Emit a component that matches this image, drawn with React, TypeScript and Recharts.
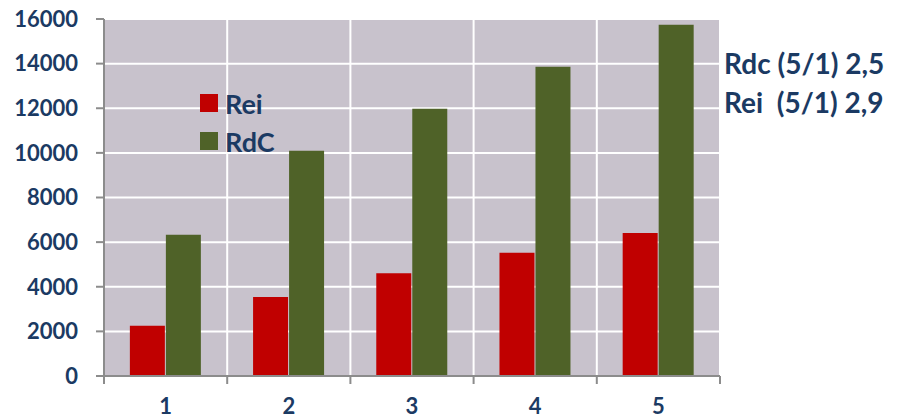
import {Bar, BarChart, CartesianGrid, Legend, XAxis, YAxis} from "recharts";

const categories = ["1", "2", "3", "4", "5"];
const reiValues = [2250, 3540, 4600, 5520, 6410];
const rdcValues = [6330, 10100, 11980, 13860, 15740];
const yTicks = [0, 2000, 4000, 6000, 8000, 10000, 12000, 14000, 16000];
const seriesOrder = ["Rei", "RdC"];
const notes = ["Rdc (5/1) 2,5", "Rei  (5/1) 2,9"];

const data = categories.map((c, i) => ({cat: c, Rei: reiValues[i], RdC: rdcValues[i]}));

const navy = "#1b3a63";
const font = "Lato, 'Open Sans', sans-serif";
const W = 900;
const H = 419;
const plotLeft = 104;
const plotRight = 720;
const band = (plotRight - plotLeft) / categories.length;

const XTick = (props: any) => {
    const {x, y, payload, index} = props;
    const left = x - band / 2;
    return (
        <g>
            <line x1={left} y1={y} x2={left} y2={y + 8} stroke="#8c8c8c" strokeWidth={2} />
            {index === categories.length - 1 && (
                <line x1={left + band} y1={y} x2={left + band} y2={y + 8} stroke="#8c8c8c" strokeWidth={2} />
            )}
            <text x={x} y={y + 38} textAnchor="middle" fill={navy} fontFamily={font} fontWeight={700} fontSize={22}>
                {payload.value}
            </text>
        </g>
    );
};

const LegendBox = ({payload}: any) => {
    const items = [...(payload || [])].sort((a: any, b: any) => seriesOrder.indexOf(a.value) - seriesOrder.indexOf(b.value));
    return (
        <div style={{fontFamily: font, fontWeight: 700, fontSize: 27, color: navy}}>
            {items.map((p: any) => (
                <div key={p.value} style={{display: "flex", alignItems: "center", height: 38}}>
                    <span style={{display: "inline-block", width: 18, height: 18, background: p.color, marginRight: 7}} />
                    {p.value}
                </div>
            ))}
        </div>
    );
};

const App = () => {
    return (
        <div style={{position: "absolute", left: 0, top: 0, width: W, height: H, background: "#fff"}}>
            <BarChart width={W} height={H} data={data} margin={{top: 19, right: W - plotRight, bottom: 0, left: 0}}
                      barCategoryGap="21%" barGap={1}>
                <CartesianGrid fill="#c8c2cc" stroke="#ffffff" strokeWidth={2}
                               verticalCoordinatesGenerator={({offset}: any) =>
                                   categories.map((_, i) => offset.left + (i + 1) * offset.width / categories.length)} />
                <XAxis dataKey="cat" height={43} tickLine={false} tickSize={0} tickMargin={0}
                       axisLine={{stroke: "#8c8c8c", strokeWidth: 2}} tick={<XTick />} interval={0} />
                <YAxis width={plotLeft} domain={[0, 16000]} ticks={yTicks} tickSize={8} tickMargin={18}
                       axisLine={{stroke: "#8c8c8c", strokeWidth: 2}} tickLine={{stroke: "#8c8c8c", strokeWidth: 2}}
                       tick={{fill: navy, fontFamily: font, fontWeight: 700, fontSize: 22}} />
                <Legend layout="vertical" align="center" verticalAlign="middle" content={<LegendBox />}
                        wrapperStyle={{top: 84, left: 200, width: 120}} />
                <Bar dataKey="Rei" fill="#c00000" isAnimationActive={false} />
                <Bar dataKey="RdC" fill="#4f6228" isAnimationActive={false} />
            </BarChart>
            {notes.map((n, i) => (
                <div key={n} style={{position: "absolute", left: 724, top: 46 + i * 39, fontFamily: font, fontWeight: 700,
                    fontSize: 28, lineHeight: "34px", color: navy, whiteSpace: "pre"}}>
                    {n}
                </div>
            ))}
        </div>
    );
};

export default App;
